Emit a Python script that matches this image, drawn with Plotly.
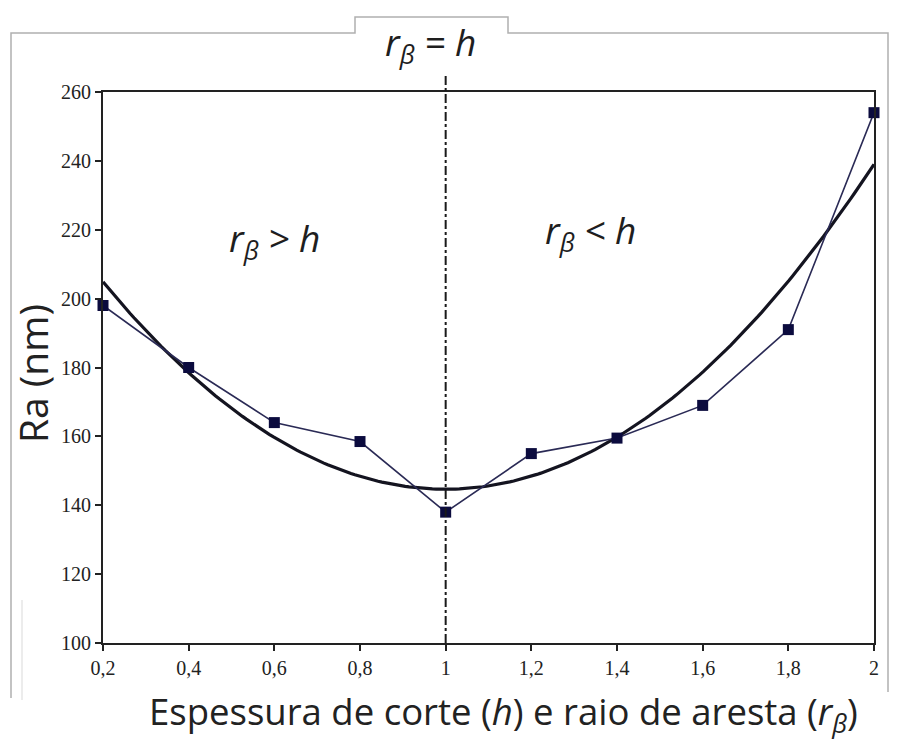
import numpy as np
import plotly.graph_objects as go

# Measured roughness vs. uncut chip thickness / edge radius
h_values = [0.2, 0.4, 0.6, 0.8, 1.0, 1.2, 1.4, 1.6, 1.8, 2.0]
ra_values = [198, 180, 164, 158.5, 138, 155, 159.5, 169, 191, 254]

x_tick_vals = [0.2, 0.4, 0.6, 0.8, 1.0, 1.2, 1.4, 1.6, 1.8, 2.0]
x_tick_text = ["0,2", "0,4", "0,6", "0,8", "1", "1,2", "1,4", "1,6", "1,8", "2"]
y_tick_vals = [100, 120, 140, 160, 180, 200, 220, 240, 260]

# Second-order polynomial trend line through the measurements
coef = np.polyfit(h_values, ra_values, 2)
h_fit = np.linspace(0.2, 2.0, 200)
ra_fit = np.polyval(coef, h_fit)

W, H = 897, 740
L, R, T, B = 103, 23, 92, 97
PW, PH = W - L - R, H - T - B


def px(x):
    return (x - L) / PW


def py(y):
    return (H - B - y) / PH


fig = go.Figure()

fig.add_trace(go.Scatter(
    x=h_fit, y=ra_fit, mode="lines",
    line=dict(color="#141420", width=3.2),
    hoverinfo="skip", showlegend=False,
))
fig.add_trace(go.Scatter(
    x=h_values, y=ra_values, mode="lines+markers",
    line=dict(color="#2a2a55", width=1.6),
    marker=dict(symbol="square", size=11, color="#0b0b3e"),
    showlegend=False, cliponaxis=False,
))

shapes = []
# r_beta = h separator
shapes.append(dict(
    type="line", xref="x", yref="paper", x0=1.0, x1=1.0, y0=0, y1=py(76),
    line=dict(color="#1a1a1a", width=2, dash="dashdot"), layer="above",
))
# outer frame with raised tab
frame = (f"M {px(11)},{py(698)} L {px(11)},{py(33)} L {px(355)},{py(33)} "
         f"L {px(355)},{py(17)} L {px(508)},{py(17)} L {px(508)},{py(33)} "
         f"L {px(888)},{py(33)} L {px(888)},{py(692)}")
shapes.append(dict(
    type="path", xref="paper", yref="paper", path=frame,
    line=dict(color="#b0b0b0", width=1.5),
))
shapes.append(dict(
    type="line", xref="paper", yref="paper",
    x0=px(22), x1=px(22), y0=py(600), y1=py(700),
    line=dict(color="#e0e0e0", width=1.2),
))

sans = "Open Sans, Lato, sans-serif"
label_font = dict(family=sans, size=37, color="#1e1e1e")


def note(text, x, y, font, **kw):
    return dict(text=text, x=px(x), y=py(y), xref="paper", yref="paper",
                xanchor="center", yanchor="middle", showarrow=False,
                font=font, **kw)


annotations = [
    note("<i>r<sub>β</sub> = h</i>", 430, 44, label_font),
    note("<i>r<sub>β</sub> &gt; h</i>", 274, 240, label_font),
    note("<i>r<sub>β</sub> &lt; h</i>", 590, 232, label_font),
    note("Espessura de corte (<i>h</i>) e raio de aresta (<i>r<sub>β</sub></i>)",
         503, 713, dict(family=sans, size=36.5, color="#222222")),
    note("Ra (nm)", 32, 374, dict(family=sans, size=39, color="#222222"),
         textangle=-90),
]

tick_font = dict(family="Liberation Serif, Times New Roman, serif", size=20, color="#222222")
fig.update_layout(
    width=W, height=H,
    margin=dict(l=L, r=R, t=T, b=B),
    paper_bgcolor="white", plot_bgcolor="white",
    shapes=shapes, annotations=annotations,
    xaxis=dict(
        range=[0.2, 2.0], tickvals=x_tick_vals, ticktext=x_tick_text,
        ticks="outside", ticklen=6, tickcolor="#222", tickwidth=1.5,
        showline=True, linecolor="#222", linewidth=2, mirror=True,
        showgrid=False, zeroline=False, tickfont=tick_font,
    ),
    yaxis=dict(
        range=[100, 260], tickvals=y_tick_vals,
        ticks="outside", ticklen=6, tickcolor="#222", tickwidth=1.5,
        showline=True, linecolor="#222", linewidth=2, mirror=True,
        showgrid=False, zeroline=False, tickfont=tick_font,
    ),
)

fig.write_html("out.html")
